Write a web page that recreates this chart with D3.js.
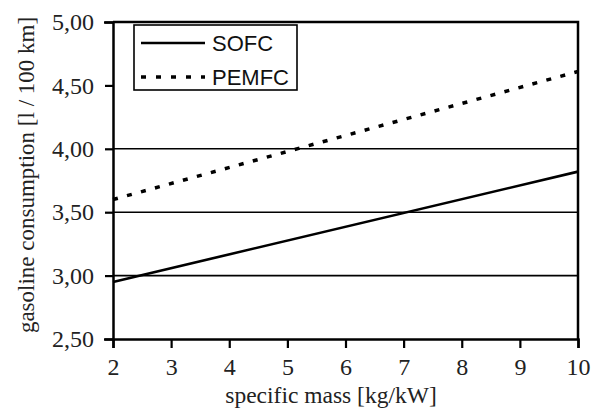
<!DOCTYPE html>
<html><head><meta charset="utf-8">
<script src="https://cdn.jsdelivr.net/npm/d3@7"></script>
<style>body{margin:0;background:#fff}svg{display:block}</style>
</head><body>
<svg id="c" width="599" height="412"></svg>
<script>
const xTicks = [2,3,4,5,6,7,8,9,10];
const yTicks = [2.5,3.0,3.5,4.0,4.5,5.0];
const gridValues = [3.0,3.5,4.0];
const seriesNames = ["SOFC","PEMFC"];
const xValues = [2,10];
const sofc = [2.95,3.82];
const pemfc = [3.60,4.61];

const svg = d3.select("#c");
const m = {l:113, r:578, t:22, b:339};
const x = d3.scaleLinear().domain([2,10]).range([m.l,m.r]);
const y = d3.scaleLinear().domain([2.5,5.0]).range([m.b,m.t]);
const fmt = v => d3.format(".2f")(v).replace(".",",");

svg.append("g").selectAll("line").data(gridValues).join("line")
  .attr("x1",m.l).attr("x2",m.r).attr("y1",d=>y(d)).attr("y2",d=>y(d))
  .attr("stroke","#000").attr("stroke-width",1.6);

svg.append("path").attr("d",`M${m.l},${m.t}H${m.r}V${m.b}`).attr("fill","none")
  .attr("stroke","#000").attr("stroke-width",2.5);

const serif = "'Liberation Serif','Times New Roman',serif";
const ax = svg.append("g").attr("transform",`translate(0,${m.b})`)
  .call(d3.axisBottom(x).tickValues(xTicks).tickSize(9).tickPadding(10).tickFormat(d3.format("d")));
const ay = svg.append("g").attr("transform",`translate(${m.l},0)`)
  .call(d3.axisLeft(y).tickValues(yTicks).tickSize(9).tickPadding(10).tickFormat(fmt));
[ax,ay].forEach(g=>{
  g.select(".domain").attr("stroke","#000").attr("stroke-width",2.5);
  g.selectAll(".tick line").attr("stroke","#000").attr("stroke-width",2.2);
  g.selectAll("text").attr("fill","#222").style("font-family",serif).style("font-size","24px");
});
ay.selectAll(".tick line").attr("x2",-8);

const line = d3.line().x((d,i)=>x(xValues[i])).y(d=>y(d));
svg.append("path").datum(sofc).attr("d",line).attr("fill","none")
  .attr("stroke","#000").attr("stroke-width",2.6);
svg.append("path").datum(pemfc).attr("d",line).attr("fill","none")
  .attr("stroke","#000").attr("stroke-width",3.5).attr("stroke-dasharray","5,9.5");

const lg = svg.append("g");
lg.append("rect").attr("x",134).attr("y",25).attr("width",163).attr("height",65)
  .attr("fill","#fff").attr("stroke","#000").attr("stroke-width",1.6);
const styles = [{w:2.6,d:null},{w:3.5,d:"5,10"}];
seriesNames.forEach((n,i)=>{
  const yy = 43 + i*34;
  lg.append("line").attr("x1",141).attr("x2",205).attr("y1",yy).attr("y2",yy)
    .attr("stroke","#000").attr("stroke-width",styles[i].w).attr("stroke-dasharray",styles[i].d);
  lg.append("text").attr("x",212).attr("y",yy+8).text(n)
    .style("font-family","'Liberation Sans',Arial,sans-serif").style("font-size","22px").attr("fill","#111");
});

svg.append("text").attr("x",331).attr("y",403).attr("text-anchor","middle")
  .style("font-family",serif).style("font-size","23.5px").attr("fill","#222").text("specific mass [kg/kW]");
svg.append("text").attr("transform","translate(34,175) rotate(-90)").attr("text-anchor","middle")
  .style("font-family",serif).style("font-size","23px").attr("fill","#222").text("gasoline consumption [l / 100 km]");
</script>
</body></html>
